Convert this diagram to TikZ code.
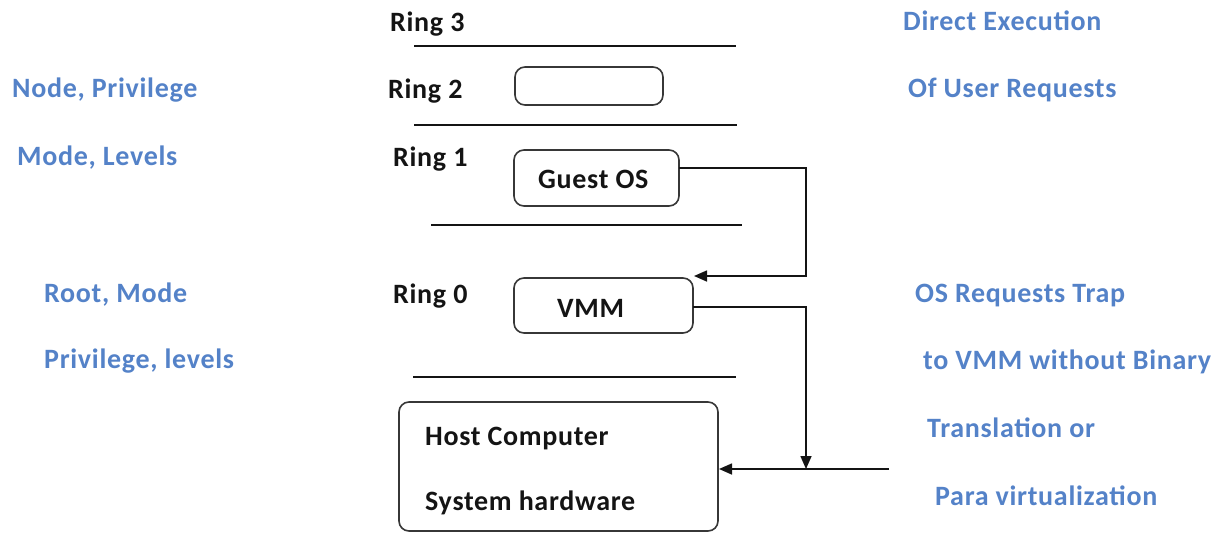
\documentclass[tikz,border=0pt]{standalone}
\usepackage{fontspec}
\setmainfont{Carlito}
\newfontfamily\labfont[LetterSpace=2.5]{Carlito}
\usetikzlibrary{arrows.meta}
\definecolor{bluetxt}{RGB}{84,130,200}
\definecolor{ink}{RGB}{20,20,20}
\begin{document}
\begin{tikzpicture}[x=1pt,y=-1pt,
  lbl/.style={anchor=base west,inner sep=0pt,font=\labfont\fontsize{28}{32}\selectfont\bfseries},
  blue/.style={lbl,text=bluetxt},
  blk/.style={lbl,text=ink},
  sep/.style={draw=ink,line width=1.8pt},
  rbox/.style={draw=ink!85,line width=1.6pt,rounded corners=10pt,inner sep=0pt},
  conn/.style={draw=ink,line width=1.6pt},
  tip/.style={-{Triangle[length=13pt,width=11pt]}}]
\useasboundingbox (0,0) rectangle (1224,533);
% left labels
\node[blue] (l1) at (12,97) {Node, Privilege};
\node[blue] (l2) at (17,165) {Mode, Levels};
\node[blue] (l3) at (44,302) {Root, Mode};
\node[blue] (l4) at (44,368) {Privilege, levels};
% right labels
\node[blue] (r1) at (903,30) {Direct Execution};
\node[blue] (r2) at (908,97) {Of User Requests};
\node[blue] (r3) at (915,302) {OS Requests Trap};
\node[blue] (r4) at (923,369) {to VMM without Binary};
\node[blue] (r5) at (927,437) {Translation or};
\node[blue] (r6) at (935,505) {Para virtualization};
% ring labels
\node[blk] (ring3) at (390,31) {Ring 3};
\node[blk] (ring2) at (388,98) {Ring 2};
\node[blk] (ring1) at (393,166) {Ring 1};
\node[blk] (ring0) at (393,303) {Ring 0};
% separator lines
\coordinate (s1a) at (414,46); \coordinate (s1b) at (736,46);
\coordinate (s2a) at (414,125); \coordinate (s2b) at (737,125);
\coordinate (s3a) at (431,225); \coordinate (s3b) at (742,225);
\coordinate (s4a) at (413,377); \coordinate (s4b) at (736,377);
\draw[sep] (s1a) -- (s1b);
\draw[sep] (s2a) -- (s2b);
\draw[sep] (s3a) -- (s3b);
\draw[sep] (s4a) -- (s4b);
% boxes
\node[rbox,minimum width=148pt,minimum height=38pt] (r2box) at (589,86) {};
\node[rbox,minimum width=165pt,minimum height=56pt] (gbox) at (596.5,178) {};
\node[blk] (gostxt) at (538,188) {Guest OS};
\node[rbox,minimum width=179pt,minimum height=55pt] (vbox) at (603.5,305.5) {};
\node[blk] (vmmtxt) at (557,317) {VMM};
\node[rbox,minimum width=319pt,minimum height=129pt] (hbox) at (558.5,466.5) {};
\node[blk] (h1) at (425,445) {Host Computer};
\node[blk] (h2) at (425,510) {System hardware};
% connectors
\coordinate (gosR) at (679,168);
\coordinate (c1) at (806,168);
\coordinate (c2) at (806,276);
\coordinate (vmmTop) at (694,276);
\draw[conn,tip] (gosR) -- (c1) -- (c2) -- (vmmTop);
\coordinate (vmmR) at (693,307);
\coordinate (c3) at (806,307);
\coordinate (c4) at (806,469);
\draw[conn,tip] (vmmR) -- (c3) -- (c4);
\coordinate (ext) at (889,469);
\coordinate (hostR) at (719,469);
\draw[conn,tip] (ext) -- (hostR);
\end{tikzpicture}
\end{document}
